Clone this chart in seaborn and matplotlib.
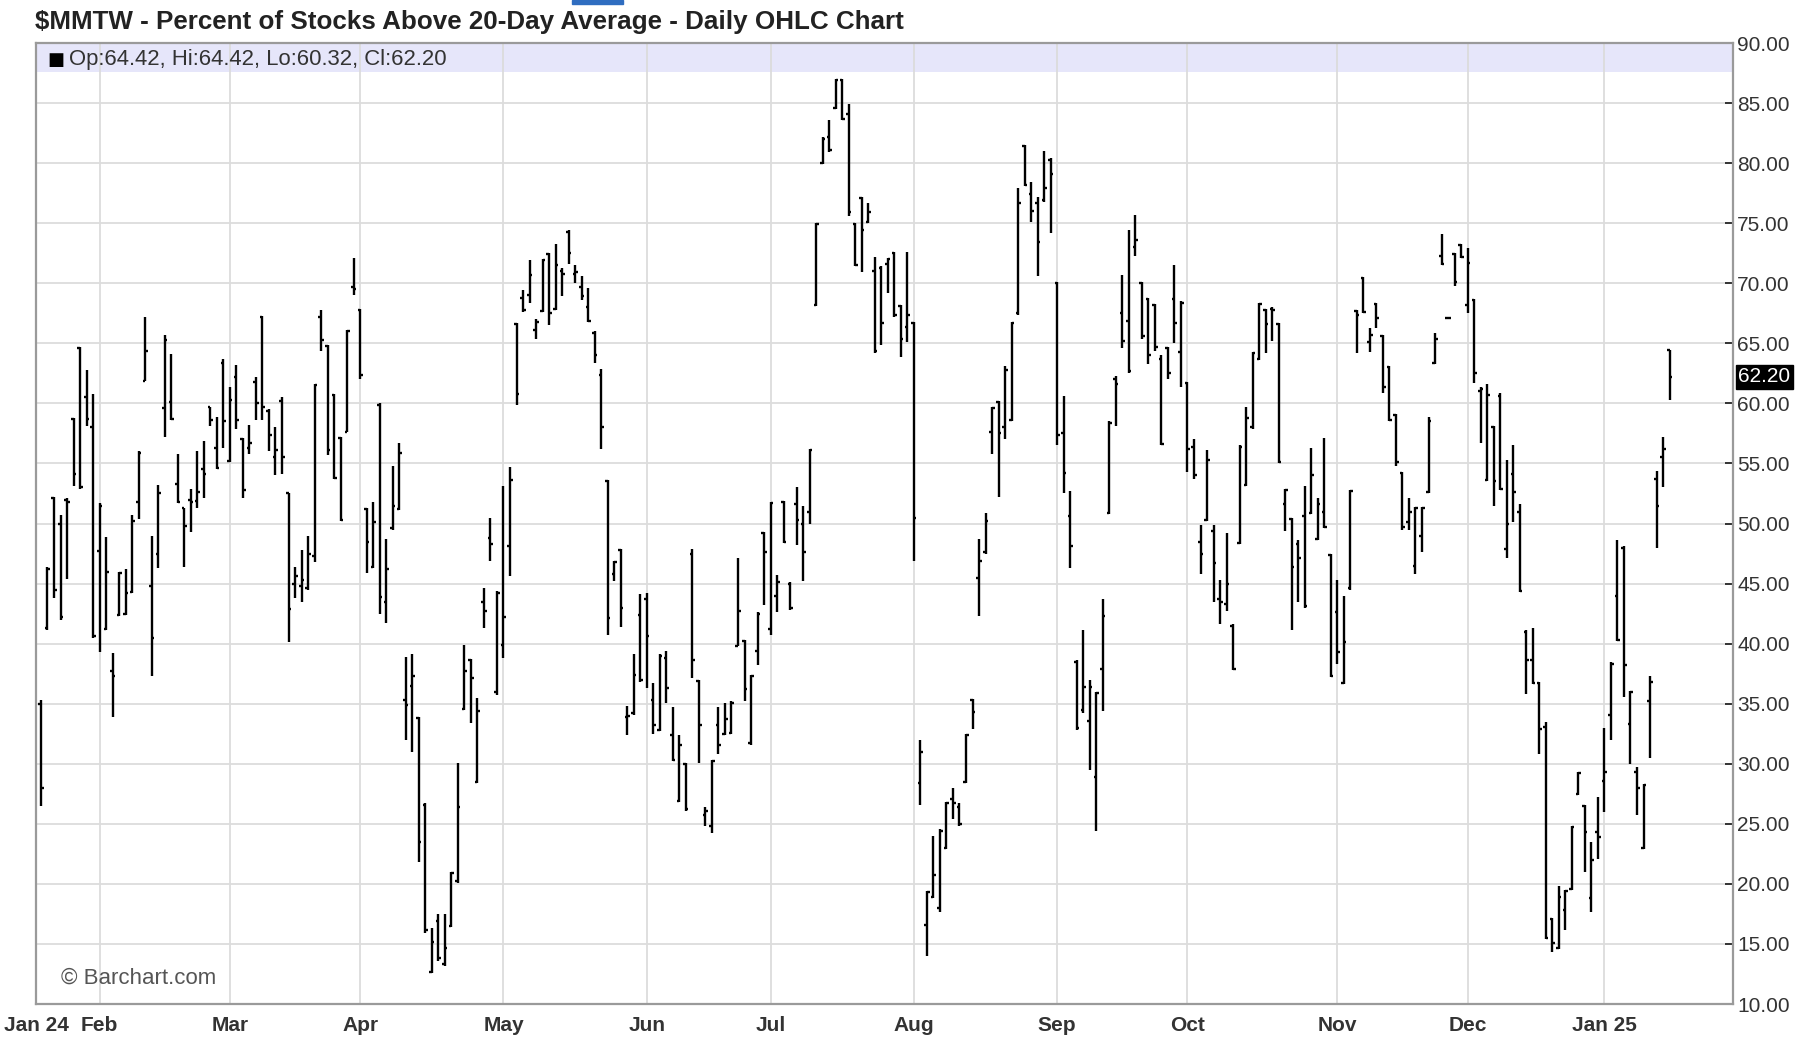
import numpy as np
import pandas as pd
import matplotlib
matplotlib.use("Agg")
import matplotlib.pyplot as plt
import matplotlib.transforms as mtransforms
from matplotlib.patches import Rectangle
import seaborn as sns

# values, one OHLC bar per trading day
month_labels = ["Jan 24", "Feb", "Mar", "Apr", "May", "Jun", "Jul",
                "Aug", "Sep", "Oct", "Nov", "Dec", "Jan 25"]
bars_per_month = [9, 20, 20, 22, 22, 19, 22, 22, 20, 23, 20, 21, 11]

opens = [
    35.0, 41.3, 52.1, 50.0, 52.0, 58.7, 64.6, 60.5, 58.0,                      # Jan
    47.7, 41.2, 37.7, 42.4, 42.5, 44.3, 51.8, 61.9, 44.8, 47.5,
    59.6, 60.1, 53.3, 51.3, 52.0, 51.9, 54.5, 59.7, 56.3, 63.4,                # Feb
    55.2, 62.2, 57.0, 56.3, 61.8, 67.2, 59.4, 55.5, 60.2, 52.5,
    45.0, 44.8, 44.6, 47.3, 67.2, 64.8, 60.7, 57.1, 57.6, 69.7,                # Mar
    67.8, 51.2, 46.4, 59.9, 43.5, 49.6, 51.2, 35.3, 36.5, 33.8, 26.6,
    12.7, 16.9, 13.3, 16.5, 20.2, 34.6, 38.6, 28.5, 43.5, 48.8, 36.0,          # Apr
    39.9, 48.1, 66.6, 68.8, 69.0, 66.1, 67.7, 72.4, 67.9, 71.0, 74.3,
    70.8, 69.7, 68.0, 65.9, 62.4, 53.5, 45.8, 47.8, 33.9, 34.2, 42.4,          # May
    43.7, 35.3, 32.8, 38.8, 32.4, 26.9, 30.0, 47.5, 36.9, 25.7,
    24.8, 33.2, 32.5, 32.6, 39.8, 40.2, 31.7, 39.4, 49.2,                      # Jun
    41.2, 44.0, 51.8, 45.0, 51.6, 50.0, 51.0, 68.2, 80.0, 82.2, 84.6,
    86.9, 84.1, 74.9, 77.1, 75.1, 71.0, 71.3, 71.6, 72.5, 68.1, 66.4,          # Jul
    66.7, 28.4, 16.6, 18.9, 18.0, 23.0, 27.1, 26.4, 28.5, 35.3, 45.5,
    47.6, 57.6, 60.1, 58.0, 58.6, 67.5, 81.4, 77.4, 76.7, 76.9, 80.3,          # Aug
    70.0, 57.5, 50.6, 38.5, 34.5, 33.6, 28.9, 37.9, 50.9, 62.0,
    67.5, 66.9, 73.0, 70.0, 68.7, 68.2, 63.7, 64.6, 68.7, 64.3,                # Sep
    61.7, 56.4, 48.5, 50.3, 49.4, 43.7, 43.3, 41.5, 48.4, 53.2, 58.0, 63.7,
    67.8, 67.9, 66.6, 51.6, 50.4, 48.3, 50.6, 50.9, 48.7, 51.0, 47.4,          # Oct
    42.6, 36.7, 44.6, 67.7, 70.4, 65.1, 68.3, 65.6, 63.0, 59.0,
    54.2, 50.1, 46.5, 49.0, 52.6, 63.4, 72.3, 67.1, 72.4, 73.2,                # Nov
    68.2, 68.6, 61.0, 53.6, 58.0, 60.6, 47.9, 54.1, 51.0, 41.0, 38.6,
    36.7, 33.1, 17.1, 14.7, 17.8, 19.6, 27.5, 26.5, 18.8, 24.3,                # Dec
    28.6, 34.1, 44.0, 48.0, 33.3, 29.3, 23.0, 35.2, 53.7, 55.5, 64.42,         # Jan 25
]
highs = [
    35.3, 46.4, 52.2, 50.7, 52.1, 58.8, 64.7, 62.8, 60.8,
    51.7, 48.9, 39.2, 46.0, 46.2, 50.7, 56.0, 67.2, 49.0, 53.2,
    65.7, 64.1, 55.8, 51.3, 52.9, 56.0, 56.9, 59.7, 58.9, 63.7,
    61.4, 63.2, 57.1, 58.2, 62.2, 67.3, 59.5, 58.0, 60.5, 52.5,
    46.4, 47.8, 49.0, 61.6, 67.8, 64.9, 60.8, 57.2, 66.1, 72.1,
    67.9, 51.3, 51.8, 60.0, 48.7, 54.8, 56.7, 38.9, 39.1, 33.9, 26.7,
    16.3, 17.5, 17.5, 21.0, 30.1, 39.9, 38.7, 35.5, 44.6, 50.5, 44.4,
    53.1, 54.7, 66.7, 69.4, 71.9, 67.0, 72.0, 72.5, 73.3, 71.3, 74.4,
    71.5, 70.6, 69.6, 66.0, 62.9, 53.6, 46.9, 47.9, 34.8, 39.1, 44.1,
    44.2, 36.7, 39.1, 39.4, 34.7, 32.4, 30.1, 47.9, 37.0, 26.4,
    30.3, 34.7, 35.1, 35.2, 47.1, 40.3, 37.4, 42.6, 49.3,
    51.8, 45.7, 51.9, 45.1, 53.0, 51.5, 56.2, 75.0, 82.2, 83.6, 87.0,
    87.0, 84.9, 75.0, 77.2, 76.7, 72.2, 71.4, 72.1, 72.6, 68.2, 72.6,
    66.8, 32.0, 19.4, 24.0, 24.6, 26.8, 28.0, 26.7, 32.5, 35.4, 48.7,
    50.9, 59.7, 60.2, 63.1, 66.8, 77.9, 81.5, 78.4, 77.2, 81.0, 80.4,
    70.1, 60.6, 52.7, 38.6, 41.1, 37.0, 36.0, 43.7, 58.5, 62.3,
    70.7, 74.4, 75.7, 70.1, 68.8, 68.3, 64.0, 64.7, 71.5, 68.5,
    61.8, 57.0, 49.9, 56.1, 49.9, 45.3, 49.2, 41.6, 56.5, 59.7, 64.3, 68.4,
    67.9, 68.0, 66.7, 52.9, 50.5, 48.6, 53.1, 56.3, 52.1, 57.1, 47.5,
    45.3, 44.0, 52.8, 67.8, 70.5, 66.3, 68.4, 65.7, 63.1, 59.1,
    54.3, 52.1, 51.4, 51.4, 58.9, 65.9, 74.1, 67.2, 72.5, 73.3,
    72.9, 68.7, 61.4, 61.6, 58.1, 60.9, 55.3, 56.5, 51.6, 41.1, 41.3,
    36.8, 33.5, 17.2, 19.8, 19.5, 24.8, 29.3, 26.6, 23.5, 27.2,
    33.0, 38.5, 48.6, 48.1, 36.1, 29.7, 28.3, 37.3, 54.4, 57.2, 64.42,
]
lows = [
    26.5, 41.1, 43.8, 42.0, 45.4, 53.1, 52.9, 58.1, 40.5,
    39.3, 41.1, 33.9, 42.3, 42.4, 44.2, 50.4, 61.9, 37.3, 46.3,
    57.2, 58.6, 51.7, 46.4, 49.3, 51.3, 52.1, 58.1, 54.5, 56.3,
    55.1, 57.9, 52.1, 55.8, 58.6, 58.6, 56.0, 54.0, 54.1, 40.1,
    43.8, 43.5, 44.5, 46.8, 64.4, 55.7, 53.7, 50.2, 57.6, 69.0,
    62.0, 45.9, 46.3, 42.5, 41.7, 49.5, 51.1, 32.0, 31.0, 21.8, 15.9,
    12.6, 13.6, 13.2, 16.4, 20.1, 34.5, 33.4, 28.4, 41.3, 46.9, 35.7,
    38.8, 45.6, 59.9, 67.6, 68.4, 65.4, 67.6, 66.5, 67.8, 68.9, 71.6,
    70.0, 68.6, 66.8, 63.4, 56.2, 40.7, 45.2, 41.4, 32.4, 34.1, 36.8,
    36.3, 32.5, 32.7, 35.1, 30.2, 26.8, 26.1, 37.1, 30.1, 24.8,
    24.2, 30.8, 32.4, 32.5, 39.8, 35.2, 31.6, 38.2, 43.2,
    40.7, 42.6, 48.4, 42.8, 48.2, 45.2, 50.0, 68.1, 79.9, 80.9, 84.5,
    83.6, 75.6, 71.4, 70.9, 75.0, 64.2, 64.9, 69.2, 67.2, 63.9, 65.1,
    46.9, 26.6, 14.0, 18.8, 17.7, 22.9, 25.4, 24.8, 28.4, 32.9, 42.3,
    47.5, 55.8, 52.2, 57.0, 58.5, 67.4, 78.1, 75.1, 70.6, 76.8, 74.2,
    56.5, 52.5, 46.3, 32.8, 34.2, 29.5, 24.4, 34.4, 50.8, 58.1,
    64.6, 62.5, 72.3, 65.4, 63.3, 64.4, 56.5, 62.0, 65.0, 61.4,
    54.3, 53.7, 45.8, 50.2, 43.5, 41.6, 42.7, 37.8, 48.3, 53.1, 57.9, 63.6,
    64.2, 65.2, 55.0, 49.4, 41.1, 43.5, 43.0, 50.8, 48.6, 49.6, 37.2,
    38.3, 36.6, 44.5, 64.2, 67.5, 64.3, 66.3, 60.9, 58.5, 54.8,
    49.5, 49.5, 45.8, 47.6, 52.5, 63.3, 71.5, 67.0, 69.8, 72.1,
    67.5, 61.7, 56.7, 53.5, 51.5, 52.8, 47.1, 50.1, 44.3, 35.8, 36.6,
    30.8, 15.4, 14.3, 14.6, 16.2, 19.5, 27.4, 21.0, 17.7, 22.1,
    26.0, 32.0, 40.2, 35.6, 30.0, 25.7, 22.9, 30.5, 48.0, 53.0, 60.32,
]
closes = [
    28.0, 46.2, 44.5, 42.2, 51.8, 54.1, 53.0, 58.7, 40.6,
    51.5, 46.0, 37.3, 45.9, 44.2, 50.2, 55.9, 64.4, 40.5, 52.5,
    65.3, 58.7, 51.8, 49.8, 51.8, 52.6, 54.1, 58.6, 54.6, 58.5,
    60.3, 58.6, 52.8, 56.7, 60.0, 59.7, 57.4, 56.1, 55.5, 42.9,
    45.6, 45.3, 47.5, 61.5, 65.3, 56.1, 53.8, 50.3, 66.0, 69.5,
    62.4, 48.5, 50.1, 43.9, 46.2, 51.5, 55.9, 34.9, 37.3, 23.5, 16.2,
    15.2, 13.8, 14.7, 20.9, 26.4, 37.7, 37.1, 34.4, 42.7, 48.3, 44.2,
    42.2, 53.6, 60.8, 67.8, 70.7, 66.8, 71.9, 67.5, 71.5, 70.8, 72.5,
    70.9, 68.9, 66.9, 64.0, 58.0, 42.1, 46.8, 43.0, 34.0, 37.4, 37.0,
    40.6, 33.2, 39.0, 36.3, 30.3, 31.6, 26.2, 38.6, 33.2, 26.1,
    30.2, 31.6, 33.7, 35.1, 42.7, 36.2, 37.3, 42.5, 47.6,
    51.7, 45.1, 48.5, 43.0, 50.3, 47.6, 56.1, 74.9, 82.0, 81.1, 86.9,
    83.7, 75.9, 71.5, 74.4, 75.9, 64.4, 66.7, 72.0, 67.4, 65.4, 67.4,
    50.5, 31.0, 19.3, 20.7, 24.4, 26.7, 26.7, 25.0, 32.4, 34.3, 46.9,
    50.2, 59.6, 57.5, 62.8, 66.7, 76.7, 78.2, 76.0, 73.4, 77.9, 79.1,
    57.4, 54.2, 48.1, 33.0, 36.4, 36.4, 35.9, 42.3, 58.4, 61.6,
    65.2, 62.7, 73.6, 65.6, 64.0, 64.7, 56.6, 62.5, 66.7, 68.4,
    56.2, 54.0, 47.5, 55.3, 46.7, 43.5, 45.0, 37.9, 56.4, 58.8, 64.2, 68.3,
    66.6, 67.8, 55.1, 52.8, 46.4, 47.1, 43.1, 54.0, 51.6, 49.7, 37.3,
    39.3, 40.1, 52.7, 67.4, 67.6, 65.7, 67.1, 61.4, 58.6, 55.1,
    49.7, 51.0, 51.3, 51.3, 58.5, 65.4, 71.6, 67.1, 70.1, 72.2,
    71.7, 62.5, 61.2, 60.7, 53.5, 52.9, 50.0, 52.6, 44.4, 38.6, 36.7,
    32.9, 15.5, 15.1, 18.9, 19.4, 24.7, 29.2, 24.3, 22.0, 23.9,
    29.3, 38.3, 40.3, 38.2, 36.0, 28.0, 28.2, 36.8, 51.5, 56.2, 62.20,
]

TITLE = "$MMTW - Percent of Stocks Above 20-Day Average - Daily OHLC Chart"
TICK = 0.4          # half-width of the open/close ticks, in bar units
XLEFT, XRIGHT = -0.76, 259.75
GRID = "#dcdcdc"
FRAME = "#9a9a9a"
TEXT = "#333333"


def build_segments(opens, highs, lows, closes):
    # every bar becomes three little segments: high-low, open tick, close tick
    rows = []
    for i, (o, h, l, c) in enumerate(zip(opens, highs, lows, closes)):
        rows += [
            (3 * i, i, l), (3 * i, i, h),
            (3 * i + 1, i - TICK, o), (3 * i + 1, i, o),
            (3 * i + 2, i, c), (3 * i + 2, i + TICK, c),
        ]
    return pd.DataFrame(rows, columns=["seg", "x", "y"])


sns.set_style("white")
plt.rcParams["font.family"] = ["Liberation Sans", "DejaVu Sans"]

fig = plt.figure(figsize=(18.10, 10.37), dpi=100)
ax = fig.add_axes([0.0199, 0.0318, 0.9376, 0.9267])

segs = build_segments(opens, highs, lows, closes)
sns.lineplot(data=segs, x="x", y="y", units="seg", estimator=None, sort=False,
             color="black", linewidth=1.7, solid_capstyle="butt",
             legend=False, ax=ax, zorder=3)

month_pos = np.concatenate([[0], np.cumsum(bars_per_month)[:-1]]).astype(float)
month_pos[0] = XLEFT     # first label sits on the left edge, as in the original

ax.set_xlim(XLEFT, XRIGHT)
ax.set_ylim(10, 90)
ax.set_xlabel("")
ax.set_ylabel("")

# lavender info band at the top of the plot
ax.axhspan(87.6, 90, color="#e6e6fa", zorder=0.2, lw=0)

ax.set_xticks(month_pos)
ax.set_xticklabels(month_labels)
yt = np.arange(10, 91, 5)
ax.set_yticks(yt)
ax.set_yticklabels([f"{v:.2f}" for v in yt])
ax.yaxis.tick_right()

ax.grid(True, color=GRID, linewidth=1.3, zorder=0.5)
ax.set_axisbelow(True)

ax.tick_params(axis="x", direction="out", length=5, width=1.3, color="#555555",
               pad=3.5, labelsize=15, labelcolor=TEXT)
for lab in ax.get_xticklabels():
    lab.set_fontweight("bold")
ax.tick_params(axis="y", direction="in", length=6, width=1.4, color="#333333",
               pad=3, labelsize=15, labelcolor=TEXT)

for side, sp in ax.spines.items():
    sp.set_visible(True)
    sp.set_color(FRAME)
    sp.set_linewidth(1.6)

# last value box on the right axis
trans = mtransforms.blended_transform_factory(ax.transAxes, ax.transData)
ax.text(1.003, closes[-1], f"{closes[-1]:.2f}", transform=trans,
        ha="left", va="center", fontsize=15, color="white",
        bbox=dict(boxstyle="square,pad=0.12", fc="black", ec="black"))

# OHLC readout inside the band
ax.text(0.0065, 88.6, "\u25A0", transform=trans, ha="left", va="center",
        fontsize=13, color="black", family="DejaVu Sans")
ax.text(0.0195, 88.6,
        f"Op:{opens[-1]:.2f}, Hi:{highs[-1]:.2f}, Lo:{lows[-1]:.2f}, Cl:{closes[-1]:.2f}",
        transform=trans, ha="left", va="center", fontsize=15.9, color=TEXT)

ax.text(0.0145, 0.027, "\u00A9 Barchart.com", transform=ax.transAxes,
        ha="left", va="center", fontsize=16, color="#555555")

fig.text(35 / 1810, 1 - 22 / 1037, TITLE, ha="left", va="center",
         fontsize=18.7, fontweight="bold", color="#222222")
fig.patches.append(Rectangle((572 / 1810, 1 - 4 / 1037), 51 / 1810, 4 / 1037,
                             transform=fig.transFigure, color="#2f6dc0"))

fig.savefig("out.png", dpi=100)
